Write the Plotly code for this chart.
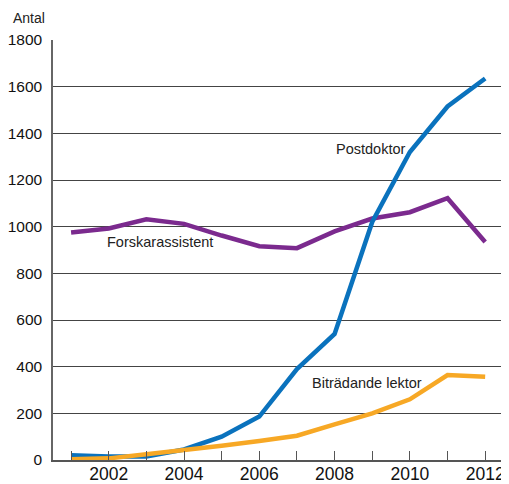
import plotly.graph_objects as go

years = list(range(2001, 2013))
postdoktor = [20, 15, 15, 45, 100, 186, 390, 540, 1020, 1320, 1515, 1635]
forskarassistent = [975, 992, 1032, 1012, 962, 916, 908, 980, 1035, 1062, 1122, 934]
bitradande_lektor = [3, 7, 25, 42, 61, 81, 104, 153, 200, 260, 364, 357]

tick_text = [str(y) if y % 2 == 0 else "" for y in years]

font_name = "Liberation Sans, Arial, sans-serif"

fig = go.Figure()

# Draw order: purple, blue, orange on top
fig.add_trace(go.Scatter(
    x=years, y=forskarassistent, mode='lines', name='Forskarassistent',
    line=dict(color='#7B2A8E', width=4.5)
))
fig.add_trace(go.Scatter(
    x=years, y=postdoktor, mode='lines', name='Postdoktor',
    line=dict(color='#0A72BD', width=4.5)
))
fig.add_trace(go.Scatter(
    x=years, y=bitradande_lektor, mode='lines', name='Biträdande lektor',
    line=dict(color='#F7A825', width=4.5)
))

# Series labels
labels = [
    ("Postdoktor", 2008.95, 1335),
    ("Forskarassistent", 2003.35, 935),
    ("Biträdande lektor", 2008.85, 330),
]
for text, lx, ly in labels:
    fig.add_annotation(
        x=lx, y=ly, text=text, showarrow=False,
        font=dict(family=font_name, size=14.5, color='#222222')
    )

fig.add_annotation(
    x=0, y=1, xref='paper', yref='paper', xanchor='left', yanchor='bottom',
    xshift=-42, yshift=12,
    text="Antal", showarrow=False,
    font=dict(family=font_name, size=14, color='#222222')
)

# page adds an 8px body margin, so the figure is sized to fit inside it
fig.update_layout(
    width=501, height=476,
    margin=dict(l=45, r=2, t=32, b=24),
    plot_bgcolor='white', paper_bgcolor='white',
    showlegend=False,
    font=dict(family=font_name, color='#111111'),
    xaxis=dict(
        range=[2000.52, 2012.58],
        tickvals=years, ticktext=tick_text,
        ticks='inside', ticklen=9, tickcolor='#555555', tickwidth=1,
        showgrid=False, zeroline=False, automargin=False,
        showline=True, linecolor='#555555', linewidth=1.5,
        ticklabelstandoff=-3,
        tickfont=dict(size=17.5, family=font_name, color='#111111'),
    ),
    yaxis=dict(
        range=[0, 1800], dtick=200,
        showgrid=True, gridcolor='#444444', gridwidth=1,
        zeroline=False, automargin=False,
        showline=True, linecolor='#666666', linewidth=1.5, mirror=True,
        ticks='', ticklabelstandoff=6,
        tickfont=dict(size=15.5, family=font_name, color='#111111'),
    ),
)

fig.write_html("out.html")
